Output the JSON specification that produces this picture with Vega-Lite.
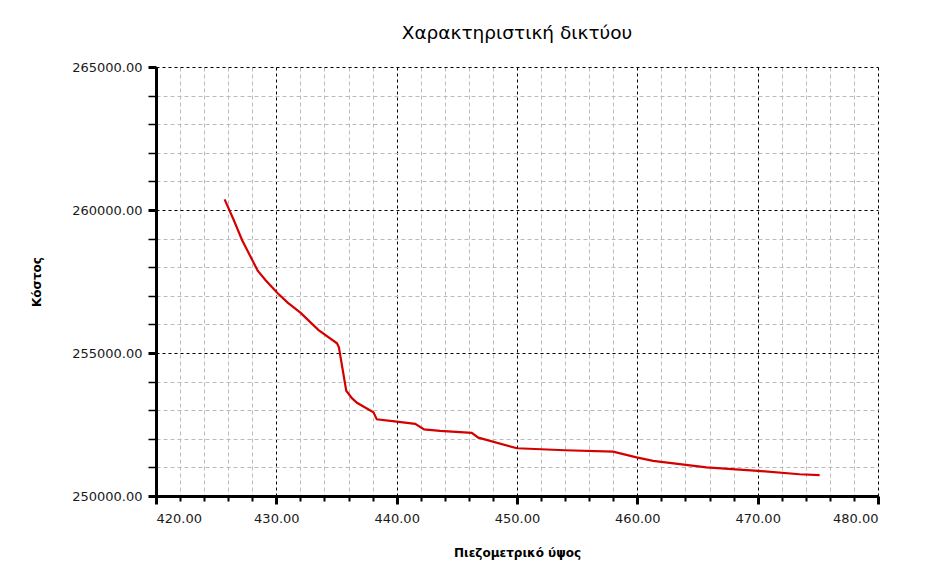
{
  "$schema": "https://vega.github.io/schema/vega-lite/v6.json",
  "width": 722,
  "height": 429,
  "autosize": {"type": "none"},
  "padding": {"left": 156, "top": 67, "right": 66, "bottom": 84},
  "background": "white",
  "config": {
    "view": {"stroke": null},
    "font": "DejaVu Sans",
    "axis": {"labelFont": "DejaVu Sans", "titleFont": "DejaVu Sans"}
  },
  "title": {
    "text": "Χαρακτηριστική δικτύου",
    "font": "DejaVu Sans",
    "fontSize": 18.5,
    "fontWeight": "normal",
    "color": "black",
    "anchor": "middle",
    "offset": 19
  },
  "data": {
    "values": [
      {"h": 425.7, "cost": 260370},
      {"h": 426.46, "cost": 259650},
      {"h": 427.15, "cost": 258950},
      {"h": 428.45, "cost": 257880},
      {"h": 429.09, "cost": 257550},
      {"h": 430.11, "cost": 257090},
      {"h": 430.94, "cost": 256760},
      {"h": 432.0, "cost": 256410},
      {"h": 433.51, "cost": 255800},
      {"h": 435.04, "cost": 255340},
      {"h": 435.2, "cost": 255200},
      {"h": 435.81, "cost": 253680},
      {"h": 436.28, "cost": 253420},
      {"h": 436.7, "cost": 253260},
      {"h": 438.07, "cost": 252930},
      {"h": 438.35, "cost": 252680},
      {"h": 440.0, "cost": 252600},
      {"h": 441.54, "cost": 252520},
      {"h": 442.28, "cost": 252330},
      {"h": 443.6, "cost": 252280},
      {"h": 446.24, "cost": 252210},
      {"h": 446.79, "cost": 252040},
      {"h": 450.0, "cost": 251670},
      {"h": 453.98, "cost": 251600},
      {"h": 457.99, "cost": 251550},
      {"h": 459.93, "cost": 251350},
      {"h": 461.31, "cost": 251230},
      {"h": 465.74, "cost": 251000},
      {"h": 470.02, "cost": 250880},
      {"h": 473.48, "cost": 250760},
      {"h": 475.15, "cost": 250730}
    ]
  },
  "layer": [
    {
      "mark": {"type": "line", "strokeOpacity": 0},
      "encoding": {
        "x": {
          "field": "h", "type": "quantitative",
          "scale": {"domain": [420, 480], "nice": false, "zero": false},
          "axis": {
            "orient": "bottom",
            "values": [422, 424, 426, 428, 432, 434, 436, 438, 442, 444, 446, 448, 452, 454, 456, 458, 462, 464, 466, 468, 472, 474, 476, 478],
            "labels": false, "title": null, "domain": false,
            "grid": true, "gridColor": "#bbbbbb", "gridDash": [4, 3], "gridWidth": 1,
            "ticks": true, "tickColor": "black", "tickSize": 5, "tickWidth": 2
          }
        },
        "y": {
          "field": "cost", "type": "quantitative",
          "scale": {"domain": [250000, 265000], "nice": false, "zero": false},
          "axis": {
            "orient": "left",
            "values": [251000, 252000, 253000, 254000, 256000, 257000, 258000, 259000, 261000, 262000, 263000, 264000],
            "labels": false, "title": null, "domain": false,
            "grid": true, "gridColor": "#bbbbbb", "gridDash": [4, 3], "gridWidth": 1,
            "ticks": true, "tickColor": "black", "tickSize": 8, "tickWidth": 1.5
          }
        }
      }
    },
    {
      "mark": {"type": "line", "color": "#d40000", "strokeWidth": 2.2},
      "encoding": {
        "x": {
          "field": "h", "type": "quantitative",
          "scale": {"domain": [420, 480], "nice": false, "zero": false},
          "axis": {
            "orient": "bottom",
            "values": [420, 430, 440, 450, 460, 470, 480],
            "format": ".2f",
            "title": "Πιεζομετρικό ύψος",
            "titleFontSize": 12, "titleFontWeight": "bold", "titleColor": "black", "titlePadding": 22,
            "labelFontSize": 13, "labelColor": "#1a1a1a", "labelPadding": 8,
            "domain": true, "domainColor": "black", "domainWidth": 3,
            "grid": true, "gridColor": "black", "gridDash": [3, 3], "gridWidth": 1,
            "ticks": true, "tickColor": "black", "tickSize": 8, "tickWidth": 3
          }
        },
        "y": {
          "field": "cost", "type": "quantitative",
          "scale": {"domain": [250000, 265000], "nice": false, "zero": false},
          "axis": {
            "orient": "left",
            "values": [250000, 255000, 260000, 265000],
            "format": ".2f",
            "title": "Κόστος",
            "titleFontSize": 12, "titleFontWeight": "bold", "titleColor": "black",
            "titleX": -113,
            "labelFontSize": 13, "labelColor": "#1a1a1a", "labelPadding": 6,
            "domain": true, "domainColor": "black", "domainWidth": 3,
            "grid": true, "gridColor": "black", "gridDash": [3, 3], "gridWidth": 1,
            "ticks": true, "tickColor": "black", "tickSize": 8, "tickWidth": 3
          }
        }
      }
    }
  ],
  "resolve": {"axis": {"x": "independent", "y": "independent"}}
}
